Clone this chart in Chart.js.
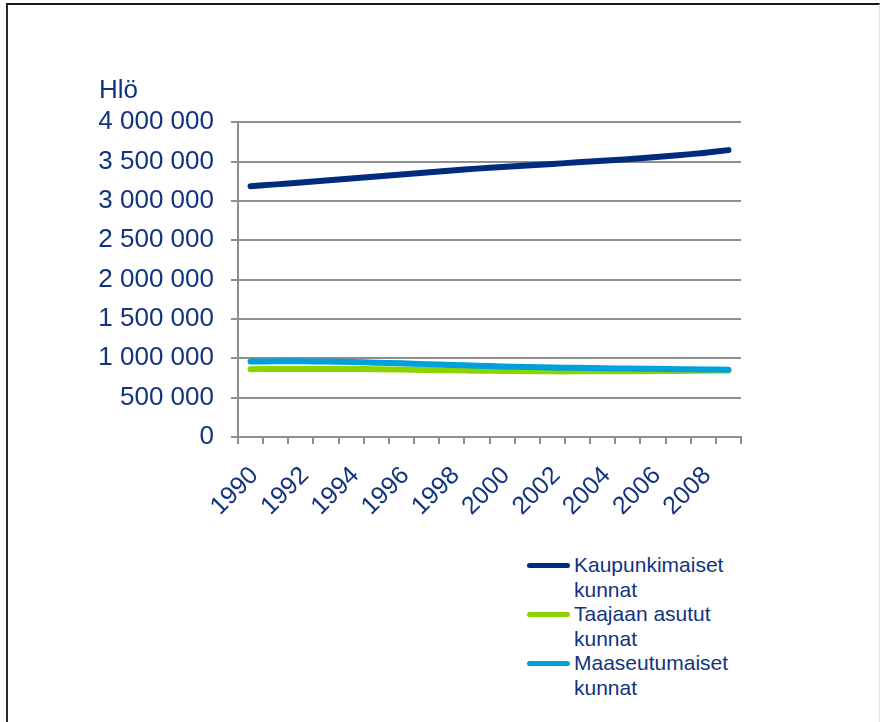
<!DOCTYPE html>
<html>
<head>
<meta charset="utf-8">
<script src="https://cdn.jsdelivr.net/npm/chart.js@4/dist/chart.umd.min.js"></script>
<style>
  html, body { margin: 0; padding: 0; background: #fff; width: 880px; height: 722px; overflow: hidden; }
  #frame { position: absolute; left: 6px; top: 3px; width: 874px; height: 740px;
           border-left: 2px solid #2a2a2a; border-top: 2px solid #1a1a1a; border-right: 1px solid #e2e2e2; box-sizing: border-box; }
  #wrap { position: absolute; left: 0; top: 0; width: 880px; height: 540px; }
  #legend { position: absolute; left: 527px; top: 553px; font-family: 'Liberation Sans', Arial, sans-serif;
            font-size: 21px; line-height: 24.5px; color: #12337f; }
  .item { position: relative; padding-left: 47px; }
  .swatch { position: absolute; left: 0; top: 10px; width: 43px; height: 5px; border-radius: 3px; }
</style>
</head>
<body>
<div id="frame"></div>
<div id="wrap"><canvas id="c" width="880" height="540"></canvas></div>
<div id="legend"></div>
<script>
const years = ['1990','1991','1992','1993','1994','1995','1996','1997','1998','1999',
               '2000','2001','2002','2003','2004','2005','2006','2007','2008','2009'];
const kaupunkimaiset = [3185000,3210000,3235000,3260000,3285000,3310000,3335000,3360000,3385000,3410000,
                        3430000,3450000,3470000,3490000,3510000,3530000,3555000,3580000,3610000,3645000];
const taajaanAsutut = [862000,864000,865000,865000,864000,861000,857000,852000,847000,843000,
                       839000,836000,834000,834000,835000,836000,838000,840000,842000,845000];
const maaseutumaiset = [960000,961000,961000,958000,953000,945000,936000,926000,916000,906000,
                        897000,890000,884000,879000,874000,870000,866000,862000,858000,855000];
const seriesNames = [['Kaupunkimaiset', 'kunnat'], ['Taajaan asutut', 'kunnat'], ['Maaseutumaiset', 'kunnat']];
const seriesColors = ['#002b7f', '#8dd300', '#00a0dc'];
const yTickValues = [0, 500000, 1000000, 1500000, 2000000, 2500000, 3000000, 3500000, 4000000];
const yTitle = 'Hlö';

const textColor = '#12337f';
const gridColor = '#8e8e8e';
const fontFamily = "'Liberation Sans', Arial, sans-serif";

function fmt(n) { return String(n).replace(/\B(?=(\d{3})+(?!\d))/g, ' '); }

const dataSets = [kaupunkimaiset, taajaanAsutut, maaseutumaiset].map((d, i) => ({
  label: seriesNames[i].join(' '),
  data: d,
  borderColor: seriesColors[i],
  backgroundColor: seriesColors[i],
  borderWidth: 6,
  borderCapStyle: 'round',
  borderJoinStyle: 'round',
  pointRadius: 0,
  tension: 0.4,
  fill: false,
  order: 2 - i
}));

new Chart(document.getElementById('c'), {
  type: 'line',
  data: { labels: years, datasets: dataSets },
  options: {
    responsive: false,
    animation: false,
    layout: { padding: { left: 99, right: 139, top: 75, bottom: 0 } },
    plugins: {
      legend: { display: false },
      tooltip: { enabled: false },
      title: {
        display: true, text: yTitle, align: 'start', color: textColor,
        font: { family: fontFamily, size: 26, weight: 'normal', lineHeight: 1.2 },
        padding: { top: 0, bottom: 16 }
      }
    },
    scales: {
      x: {
        type: 'category',
        offset: true,
        afterFit: s => { s.height = 103; },
        grid: { offset: true, drawOnChartArea: false, drawTicks: true, tickLength: 7, color: gridColor, lineWidth: 2 },
        border: { display: true, color: gridColor, width: 2 },
        ticks: {
          autoSkip: false, minRotation: 45, maxRotation: 45, padding: 17, labelOffset: 4,
          color: textColor, font: { family: fontFamily, size: 25 },
          callback: function(v, i) { return (parseInt(years[i]) % 2 === 0) ? years[i] : ''; }
        }
      },
      y: {
        min: 0, max: 4000000,
        afterFit: s => { s.width = 139; },
        afterBuildTicks: s => { s.ticks = yTickValues.map(v => ({ value: v })); },
        grid: { color: gridColor, lineWidth: 2, drawTicks: true, tickLength: 7 },
        border: { display: true, color: gridColor, width: 2 },
        ticks: {
          padding: 17, color: textColor, font: { family: fontFamily, size: 26 },
          callback: v => fmt(v)
        }
      }
    }
  }
});

const legend = document.getElementById('legend');
seriesNames.forEach((lines, i) => {
  const it = document.createElement('div');
  it.className = 'item';
  const sw = document.createElement('div');
  sw.className = 'swatch';
  sw.style.background = seriesColors[i];
  it.appendChild(sw);
  lines.forEach(t => { const l = document.createElement('div'); l.textContent = t; it.appendChild(l); });
  legend.appendChild(it);
});
</script>
</body>
</html>
